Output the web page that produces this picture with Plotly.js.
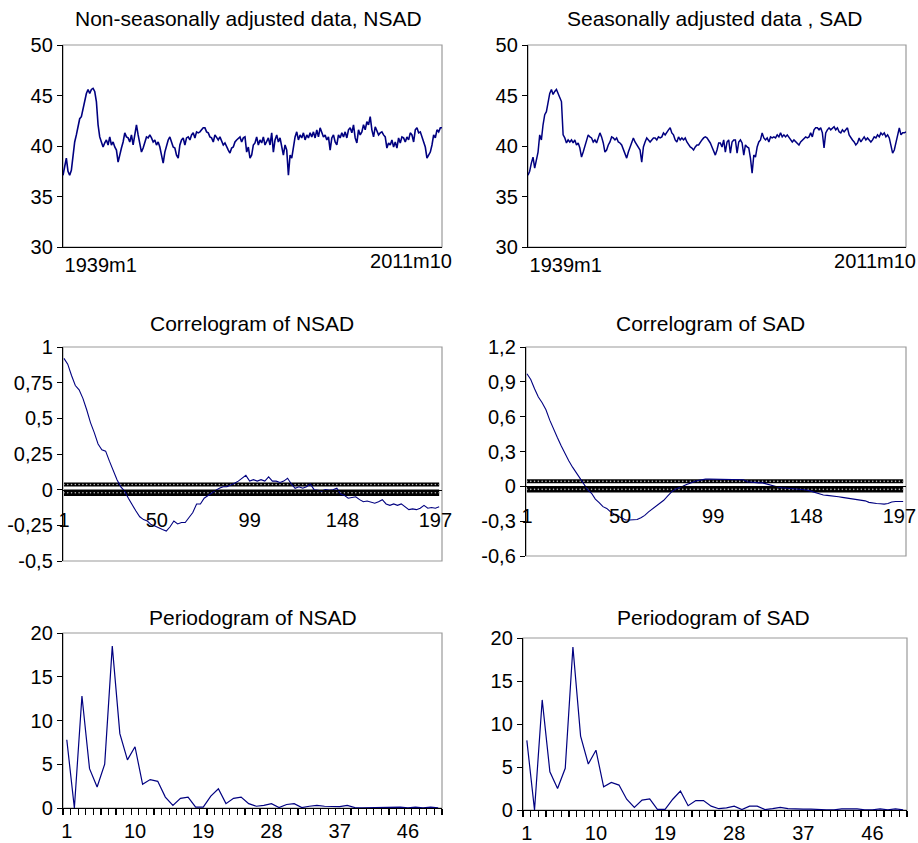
<!DOCTYPE html>
<html>
<head>
<meta charset="utf-8">
<script src="https://cdn.plot.ly/plotly-3.0.1.min.js"></script>
<style>html,body{margin:0;padding:0;background:#fff}#chart{width:918px;height:843px}</style>
</head>
<body>
<div id="chart"></div>
<script>
// ---------- DATA ----------
// Monthly series 1939m1 .. 2011m10 (at ~1.7 px steps)
const nsadValues = [
37.1,38.1,38.8,37.5,37.1,37.6,39.4,40.4,41.1,42.1,
42.7,42.9,43.7,44.7,45.2,45.6,45.2,45.6,45.7,45.4,
44.4,42.1,40.9,40.4,39.9,40.3,40.6,40.1,40.9,40.1,
40.4,39.9,39.6,38.4,39.3,39.8,40.4,41.3,40.9,40.8,
40.4,41.1,40.1,41.3,42.1,41.1,40.1,39.4,39.8,40.4,
40.9,40.8,41.1,40.8,40.4,40.6,40.1,40.4,39.9,39.1,
38.3,39.4,40.1,40.6,40.9,40.4,39.9,39.8,39.1,38.8,
40.1,40.6,40.8,40.1,40.8,40.9,40.6,41.1,41.3,40.8,
41.4,41.3,41.4,41.6,41.8,41.8,41.4,41.3,40.9,40.8,
40.4,41.1,40.8,40.6,40.9,40.4,40.1,40.3,39.9,39.6,
39.3,39.8,39.9,40.4,40.6,40.8,40.9,40.4,40.8,40.9,
39.4,39.9,38.8,39.1,40.1,40.3,
40.9,40.1,40.6,40.3,40.9,40.1,40.4,40.8,40.1,41.3,
39.4,40.6,41.1,40.4,40.8,39.9,39.1,40.1,39.6,37.1,
39.1,38.8,39.9,40.9,41.4,40.6,41.1,40.8,41.3,40.6,
41.1,40.8,41.3,40.9,41.4,40.8,41.6,40.9,41.8,41.3,
40.9,41.1,40.6,40.9,39.6,40.8,41.1,40.4,40.1,41.1,
40.8,41.3,40.9,41.4,40.8,41.6,41.8,41.3,42.1,40.8,
40.3,41.6,41.1,41.4,42.1,41.6,42.4,42.1,42.9,41.6,
40.9,41.9,41.4,41.1,41.3,41.4,41.1,40.9,39.8,40.3,
40.1,40.6,39.9,40.4,39.8,40.8,40.3,40.9,40.8,40.4,
40.9,40.6,41.3,41.1,40.4,41.6,41.8,41.3,41.4,40.9,
40.4,39.9,38.8,39.1,39.4,40.1,41.1,40.8,41.6,41.4,
41.8,41.8];

const sadValues = [
37.1,37.5,38.3,38.9,37.8,38.8,39.4,41.1,40.6,42.1,
43.1,43.4,44.2,45.2,45.6,45.1,45.4,45.6,45.2,44.7,
44.4,41.1,40.8,40.3,40.6,40.4,40.6,40.3,40.6,40.1,
40.3,39.8,38.9,39.4,39.9,40.6,41.1,40.9,40.8,40.4,
40.6,40.3,40.8,41.3,40.9,40.3,39.4,39.6,40.1,40.4,
40.9,40.8,40.6,40.8,40.4,40.3,40.1,39.6,39.1,38.8,
39.4,39.9,40.4,40.8,40.4,40.1,39.9,39.6,38.4,39.9,
40.4,40.8,40.6,40.4,40.6,40.8,40.8,40.6,40.9,40.8,
40.9,41.3,41.1,41.4,41.6,41.8,41.3,41.1,40.6,40.4,
40.9,40.6,40.8,40.6,40.8,40.4,40.1,39.9,39.8,39.6,
39.9,40.1,40.1,40.4,40.6,40.8,40.9,40.8,40.6,40.3,
39.9,39.4,39.1,39.6,40.3,
40.3,39.9,40.6,39.4,40.4,40.6,39.3,40.4,40.6,40.6,
39.3,40.4,40.6,40.3,39.1,40.1,39.9,39.8,38.8,37.3,
39.1,38.9,39.9,40.4,40.6,41.3,40.8,40.6,40.8,40.4,
40.9,40.8,40.9,40.8,41.1,40.9,41.3,40.9,41.1,40.9,
41.1,40.9,40.6,40.4,40.6,40.4,40.3,40.1,40.4,40.6,
40.8,40.9,40.8,40.9,41.3,40.9,41.6,41.8,41.8,41.6,
41.8,41.3,39.8,41.3,41.6,41.8,41.6,41.8,41.9,41.6,
41.8,41.4,41.3,41.6,41.4,41.6,41.8,41.1,40.8,40.6,
40.4,40.1,40.3,40.8,40.4,40.6,40.9,40.6,40.8,40.6,
40.4,40.6,40.9,40.8,41.1,40.9,41.3,41.1,41.3,40.9,
41.1,40.8,39.9,39.3,39.6,40.3,40.8,41.8,41.1,41.3,
41.3,41.4];

const dateTickText = ['1939m1', '2011m10'];
const totalMonths = 873; // months between 1939m1 and 2011m10

// Correlograms: autocorrelations at lags 1,3,5,...,199
const acfNSAD = [
0.92,0.88,0.80,0.73,0.70,0.64,0.56,0.47,0.40,0.32,
0.28,0.27,0.20,0.13,0.07,0.02,-0.01,-0.06,-0.11,-0.15,
-0.19,-0.21,-0.22,-0.245,-0.255,-0.27,-0.28,-0.29,-0.26,-0.22,
-0.24,-0.23,-0.23,-0.195,-0.16,-0.10,-0.10,-0.06,-0.04,-0.025,
-0.005,0.01,0.02,0.02,0.03,0.045,0.06,0.08,0.10,0.06,
0.07,0.06,0.07,0.06,0.09,0.06,0.06,0.05,0.06,0.08,
0.04,0.01,0.02,0.01,0.02,0.04,0.0,-0.005,-0.01,0.0,
-0.005,0.0,0.01,-0.03,-0.04,-0.06,-0.055,-0.05,-0.07,-0.085,
-0.08,-0.09,-0.095,-0.085,-0.07,-0.10,-0.11,-0.10,-0.11,-0.10,
-0.12,-0.14,-0.135,-0.14,-0.13,-0.11,-0.13,-0.125,-0.13,-0.12];

const acfSAD = [
0.97,0.92,0.84,0.77,0.72,0.66,0.57,0.49,0.42,0.35,
0.28,0.22,0.165,0.115,0.07,0.02,-0.03,-0.06,-0.11,-0.14,
-0.175,-0.19,-0.22,-0.24,-0.255,-0.275,-0.29,-0.29,-0.29,-0.286,
-0.27,-0.25,-0.22,-0.195,-0.165,-0.14,-0.12,-0.085,-0.05,-0.025,
-0.015,0.0,0.015,0.03,0.04,0.05,0.057,0.062,0.062,0.062,
0.062,0.062,0.062,0.062,0.062,0.062,0.062,0.057,0.04,0.035,
0.03,0.03,0.03,0.02,0.01,0.0,-0.005,-0.012,-0.015,-0.018,
-0.02,-0.02,-0.022,-0.03,-0.035,-0.045,-0.055,-0.065,-0.075,-0.078,
-0.08,-0.085,-0.09,-0.095,-0.10,-0.103,-0.108,-0.112,-0.117,-0.125,
-0.138,-0.145,-0.148,-0.15,-0.153,-0.148,-0.135,-0.13,-0.13,-0.13];

const bandNSAD = [0.036, -0.022];
const bandSAD = [0.043, -0.026];
const lagTicks = [1, 50, 99, 148, 197];
const maxLag = 200;

// Periodograms, frequencies 1..50
const perNSAD = [
7.8,0,12.8,4.5,2.4,5.0,18.5,8.5,5.5,7.0,
2.7,3.25,3.05,1.25,0.3,1.1,1.25,0.1,0.1,1.35,
2.2,0.5,1.1,1.25,0.5,0.2,0.3,0.5,0.05,0.4,
0.5,0.05,0.2,0.3,0.2,0.15,0.15,0.3,0.05,0.02,
0.03,0.1,0.12,0.12,0.1,0.03,0.1,0.02,0.1,0.02];
const perSAD = [
8.1,0,12.8,4.45,2.5,4.85,18.95,8.6,5.35,6.95,
2.7,3.2,2.9,1.25,0.3,1.15,1.3,0.08,0.08,1.25,
2.2,0.5,1.1,1.1,0.45,0.15,0.25,0.45,0.05,0.45,
0.45,0.05,0.15,0.3,0.15,0.1,0.1,0.1,0.03,0.03,
0.03,0.12,0.12,0.12,0.03,0.03,0.12,0.03,0.12,0.03];
const freqTicks = [1, 10, 19, 28, 37, 46];

const titles = ['Non-seasonally adjusted data, NSAD', 'Seasonally adjusted data , SAD',
  'Correlogram of NSAD', 'Correlogram of SAD', 'Periodogram of NSAD', 'Periodogram of SAD'];

const yTicksLevel = [30, 35, 40, 45, 50];
const yTicksAcfN = [-0.5, -0.25, 0, 0.25, 0.5, 0.75, 1];
const yTextAcfN = ['-0,5', '-0,25', '0', '0,25', '0,5', '0,75', '1'];
const yTicksAcfS = [-0.6, -0.3, 0, 0.3, 0.6, 0.9, 1.2];
const yTextAcfS = ['-0,6', '-0,3', '0', '0,3', '0,6', '0,9', '1,2'];
const yTicksPer = [0, 5, 10, 15, 20];

// ---------- BUILD ----------
const W = 918, H = 843;
const NAVY = '#000080';
const FONT = 'Liberation Sans, Arial, sans-serif';
const fx = p => p / W;
const fy = p => 1 - p / H;

const monthsOf = arr => arr.map((_, i) => i * totalMonths / (arr.length - 1));
const oddLags = acfNSAD.map((_, i) => 1 + 2 * i);
const freqs = perNSAD.map((_, i) => i + 1);

const traces = [
  {x: monthsOf(nsadValues), y: nsadValues, xaxis: 'x', yaxis: 'y', mode: 'lines', line: {color: NAVY, width: 1.6}},
  {x: monthsOf(sadValues), y: sadValues, xaxis: 'x2', yaxis: 'y2', mode: 'lines', line: {color: NAVY, width: 1.5}},
  // empty traces so that the overlaying date axes (end labels) are drawn
  {x: [], y: [], xaxis: 'x7', yaxis: 'y', mode: 'lines'},
  {x: [], y: [], xaxis: 'x8', yaxis: 'y2', mode: 'lines'}
];
function bands(b, xa, ya) {
  return [
    {x: oddLags, y: oddLags.map(() => b[0]), xaxis: xa, yaxis: ya, mode: 'lines+markers',
     line: {color: 'black', width: 4}, marker: {color: '#bbbbbb', size: 1.6, symbol: 'circle'}},
    {x: oddLags, y: oddLags.map(() => b[1]), xaxis: xa, yaxis: ya, mode: 'lines+markers',
     line: {color: 'black', width: 6.5}, marker: {color: '#bbbbbb', size: 1.6, symbol: 'circle'}}
  ];
}
traces.push(...bands(bandNSAD, 'x3', 'y3'));
traces.push(...bands(bandSAD, 'x4', 'y4'));
traces.push({x: oddLags, y: acfNSAD, xaxis: 'x3', yaxis: 'y3', mode: 'lines', line: {color: NAVY, width: 1.1}});
traces.push({x: oddLags, y: acfSAD, xaxis: 'x4', yaxis: 'y4', mode: 'lines', line: {color: NAVY, width: 1.1}});
traces.push({x: freqs, y: perNSAD, xaxis: 'x5', yaxis: 'y5', mode: 'lines', line: {color: NAVY, width: 1.2}});
traces.push({x: freqs, y: perSAD, xaxis: 'x6', yaxis: 'y6', mode: 'lines', line: {color: NAVY, width: 1.2}});

const tickFont = {family: FONT, size: 20, color: 'black'};
const baseAx = {showgrid: false, zeroline: false, fixedrange: true, tickfont: tickFont};

// panel boxes in pixels [x0, x1, yTop, yBottom]
const P = {
  tl: [63, 442, 45, 247], tr: [528, 906, 45, 247],
  cl: [63, 442, 347, 561], cr: [526, 906, 347, 556],
  pl: [63, 442, 633, 808], pr: [523, 907, 638, 810]
};
const dx = b => [fx(b[0]), fx(b[1])];
const dy = b => [fy(b[3]), fy(b[2])];

function yAx(b, range, vals, text, anchor) {
  return Object.assign({}, baseAx, {domain: dy(b), range: range, anchor: anchor,
    tickmode: 'array', tickvals: vals, ticktext: text || vals.map(String),
    ticks: 'outside', ticklen: 5, tickcolor: 'black', showline: true, linecolor: 'black', linewidth: 1.2});
}
function zeroPos(b, range) {
  const d = dy(b);
  return d[0] + (0 - range[0]) / (range[1] - range[0]) * (d[1] - d[0]);
}
const rN = [-0.5, 1], rS = [-0.6, 1.2];
const lagBounds = [0.5, maxLag + 0.5];
const freqBounds = [0.5, freqs.length + 0.5];
const freqMinor = [];
for (let i = 0; i <= freqs.length; i++) freqMinor.push(i + 0.5);

function dateAxes(domainBox, yName, overName) {
  const main = Object.assign({}, baseAx, {domain: dx(domainBox), range: [0, totalMonths], anchor: yName,
    tickmode: 'array', tickvals: [0], ticktext: [dateTickText[0]], ticks: '',
    ticklabelposition: 'outside right', ticklabelstandoff: 0, ticklabelshift: 1,
    showline: true, linecolor: 'black', linewidth: 1.2});
  const over = Object.assign({}, baseAx, {overlaying: overName, range: [0, totalMonths], anchor: yName,
    tickmode: 'array', tickvals: [totalMonths], ticktext: [dateTickText[1]], ticks: '',
    ticklabelposition: 'outside left', ticklabelstandoff: 0, ticklabelshift: 10, showline: false});
  return [main, over];
}
const [xa1, xa7] = dateAxes(P.tl, 'y', 'x');
const [xa2, xa8] = dateAxes(P.tr, 'y2', 'x2');

const layout = {
  width: W, height: H, margin: {l: 0, r: 0, t: 0, b: 0},
  paper_bgcolor: 'white', plot_bgcolor: 'white', showlegend: false,
  font: {family: FONT, color: 'black'},
  xaxis: xa1, xaxis7: xa7,
  yaxis: yAx(P.tl, [30, 50], yTicksLevel, null, 'x'),
  xaxis2: xa2, xaxis8: xa8,
  yaxis2: yAx(P.tr, [30, 50], yTicksLevel, null, 'x2'),
  xaxis3: Object.assign({}, baseAx, {domain: dx(P.cl), range: lagBounds, anchor: 'free',
    position: zeroPos(P.cl, rN), tickmode: 'array', tickvals: lagTicks, ticks: '',
    ticklabelstandoff: 12, showline: true, linecolor: 'black', linewidth: 1}),
  yaxis3: yAx(P.cl, rN, yTicksAcfN, yTextAcfN, 'x3'),
  xaxis4: Object.assign({}, baseAx, {domain: dx(P.cr), range: lagBounds, anchor: 'free',
    position: zeroPos(P.cr, rS), tickmode: 'array', tickvals: lagTicks, ticks: '',
    ticklabelstandoff: 12, showline: true, linecolor: 'black', linewidth: 1}),
  yaxis4: yAx(P.cr, rS, yTicksAcfS, yTextAcfS, 'x4'),
  xaxis5: Object.assign({}, baseAx, {domain: dx(P.pl), range: freqBounds, anchor: 'y5',
    tickmode: 'array', tickvals: freqTicks, ticks: '', ticklabelstandoff: 5,
    minor: {tickmode: 'array', tickvals: freqMinor, ticks: 'outside', ticklen: 6, tickcolor: 'black', tickwidth: 1.2},
    showline: true, linecolor: 'black', linewidth: 1.2}),
  yaxis5: yAx(P.pl, [0, 20], yTicksPer, null, 'x5'),
  xaxis6: Object.assign({}, baseAx, {domain: dx(P.pr), range: freqBounds, anchor: 'y6',
    tickmode: 'array', tickvals: freqTicks, ticks: '', ticklabelstandoff: 5,
    minor: {tickmode: 'array', tickvals: freqMinor, ticks: 'outside', ticklen: 6, tickcolor: 'black', tickwidth: 1.2},
    showline: true, linecolor: 'black', linewidth: 1.2}),
  yaxis6: yAx(P.pr, [0, 20], yTicksPer, null, 'x6'),
  shapes: [],
  annotations: []
};

const axPairs = [['x', 'y'], ['x2', 'y2'], ['x3', 'y3'], ['x4', 'y4'], ['x5', 'y5'], ['x6', 'y6']];
axPairs.forEach(([xa, ya]) => {
  layout.shapes.push({type: 'rect', xref: xa + ' domain', yref: ya + ' domain', x0: 0, x1: 1, y0: 0, y1: 1,
    line: {color: '#9a9a9a', width: 1.2}, fillcolor: 'rgba(0,0,0,0)', layer: 'below'});
});

const titlePos = [[249, 18], [714, 18], [252, 323], [710, 323], [253, 617], [713, 617]];
titles.forEach((t, i) => {
  layout.annotations.push({text: t, xref: 'paper', yref: 'paper', x: fx(titlePos[i][0]), y: fy(titlePos[i][1]),
    xanchor: 'center', yanchor: 'middle', showarrow: false, font: {family: FONT, size: 21, color: 'black'}});
});

Plotly.newPlot('chart', traces, layout, {staticPlot: true, displayModeBar: false});
</script>
</body>
</html>
